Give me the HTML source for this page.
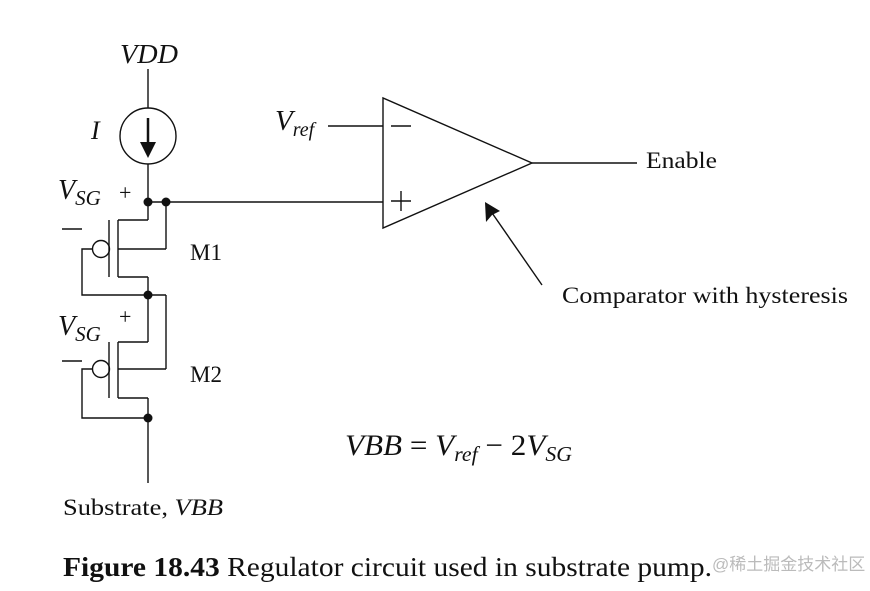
<!DOCTYPE html>
<html><head><meta charset="utf-8"><style>
html,body{margin:0;padding:0;background:#fff;}
svg{display:block;}
text{font-family:"Liberation Serif",serif;fill:#111;}
.i{font-style:italic;}
</style></head><body>
<svg width="870" height="591" viewBox="0 0 870 591" xmlns="http://www.w3.org/2000/svg">
<g stroke="#111" stroke-width="1.4" fill="none">
<line x1="148" y1="69" x2="148" y2="108"/>
<circle cx="148" cy="136" r="28"/>
<line x1="148" y1="164" x2="148" y2="220"/>
<line x1="148" y1="118" x2="148" y2="152" stroke-width="2.5"/>
<line x1="148" y1="202" x2="383" y2="202"/>
<line x1="109" y1="220" x2="109" y2="277"/>
<line x1="118" y1="220" x2="118" y2="277"/>
<line x1="118" y1="220" x2="148" y2="220"/>
<line x1="118" y1="249" x2="166" y2="249"/>
<line x1="166" y1="202" x2="166" y2="249"/>
<line x1="118" y1="277" x2="148" y2="277"/>
<line x1="148" y1="277" x2="148" y2="342"/>
<circle cx="101" cy="249" r="8.5"/>
<polyline points="92,249 82,249 82,295 166,295"/>
<line x1="109" y1="342" x2="109" y2="398"/>
<line x1="118" y1="342" x2="118" y2="398"/>
<line x1="118" y1="342" x2="148" y2="342"/>
<line x1="118" y1="369" x2="166" y2="369"/>
<line x1="166" y1="295" x2="166" y2="369"/>
<line x1="118" y1="398" x2="148" y2="398"/>
<line x1="148" y1="398" x2="148" y2="483"/>
<circle cx="101" cy="369" r="8.5"/>
<polyline points="92,369 82,369 82,418 148,418"/>
<line x1="62" y1="229" x2="82" y2="229"/>
<line x1="62" y1="361" x2="82" y2="361"/>
<polygon points="383,98 383,228 532,163"/>
<line x1="532" y1="163" x2="637" y2="163"/>
<line x1="328" y1="126" x2="383" y2="126"/>
<line x1="391" y1="126" x2="411" y2="126"/>
<line x1="391" y1="201" x2="411" y2="201"/>
<line x1="401" y1="191" x2="401" y2="211"/>
<line x1="542" y1="285" x2="490" y2="210"/>
</g>
<polygon points="485,202 486,222 492,215 500,211" fill="#111"/>
<polygon points="148,158 140,142 156,142" fill="#111"/>
<g fill="#111">
<circle cx="148" cy="202" r="4.5"/><circle cx="166" cy="202" r="4.5"/>
<circle cx="148" cy="295" r="4.5"/><circle cx="148" cy="418" r="4.5"/>
</g>
<text x="120" y="63" class="i" font-size="27" textLength="58" lengthAdjust="spacingAndGlyphs">VDD</text>
<text x="91" y="139" class="i" font-size="26">I</text>
<text x="58" y="199" class="i" font-size="28">V<tspan font-size="21" dy="6">SG</tspan></text>
<text x="119" y="200" font-size="22">+</text>
<text x="58" y="335" class="i" font-size="28">V<tspan font-size="21" dy="6">SG</tspan></text>
<text x="119" y="324" font-size="22">+</text>
<text x="190" y="260" font-size="23">M1</text>
<text x="190" y="382" font-size="23">M2</text>
<text x="275" y="130" class="i" font-size="29">V<tspan font-size="20" dy="6">ref</tspan></text>
<text x="646" y="168" font-size="23" textLength="71" lengthAdjust="spacingAndGlyphs">Enable</text>
<text x="562" y="303" font-size="23" textLength="286" lengthAdjust="spacingAndGlyphs">Comparator with hysteresis</text>
<text x="345" y="455" class="i" font-size="30" textLength="227" lengthAdjust="spacingAndGlyphs">VBB<tspan font-style="normal"> = </tspan>V<tspan font-size="21" dy="6">ref</tspan><tspan dy="-6" font-style="normal"> − 2</tspan>V<tspan font-size="21" dy="6">SG</tspan></text>
<text x="63" y="515" font-size="23" textLength="160" lengthAdjust="spacingAndGlyphs">Substrate, <tspan class="i">VBB</tspan></text>
<text x="63" y="576" font-size="27" textLength="649" lengthAdjust="spacingAndGlyphs"><tspan font-weight="bold">Figure 18.43</tspan>  Regulator circuit used in substrate pump.</text>
<text x="712" y="570" font-size="17" style="fill:#bbb;font-family:'Liberation Sans','Noto Sans CJK SC',sans-serif">@稀土掘金技术社区</text>
</svg>
</body></html>
